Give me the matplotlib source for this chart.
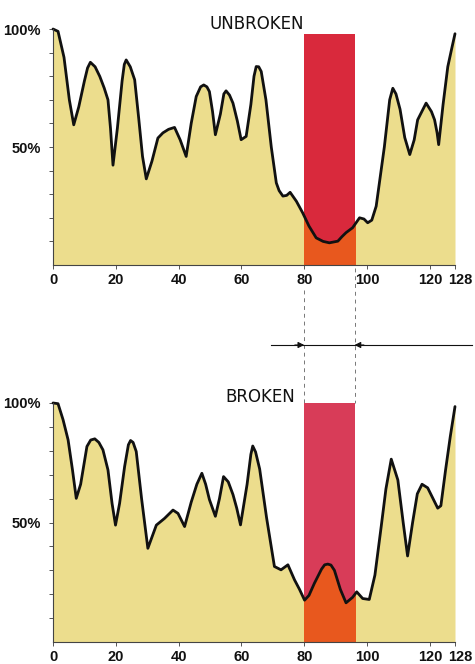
import numpy as np
import matplotlib
matplotlib.use('Agg')
import matplotlib.pyplot as plt
from matplotlib.patches import Rectangle
from matplotlib.transforms import blended_transform_factory, ScaledTranslation

# values (position 0..128, percent)
x_unbroken = [0, 1.6, 3.5, 5.2, 6.6, 8.2, 10, 11, 11.9, 13.4, 14.9, 16.3, 17.5, 18.3, 19.1,
              20.5, 22, 22.7, 23.3, 24.6, 26, 27.3, 28.5, 29.7, 31.5, 33.4, 35, 36.8, 38.7,
              40.5, 42.4, 44, 45.6, 47, 48, 49, 49.8, 50.8, 51.7, 53.3, 54.4, 55.1, 56.2, 57.3,
              58.7, 59.9, 61.5, 63, 64, 64.7, 65.5, 66.3, 67.8, 69.5, 71.1, 72, 73.2, 74.4, 75.5,
              77.5, 79.5, 81.5, 83.8, 86, 88, 90.7, 92, 93.3, 95.4, 97.6, 99, 100.2,
              101.5, 102.9, 105.5, 107.2, 108.2, 109.2, 110.5, 112, 113.6, 115, 116.1, 118.8, 120.5,
              121.5, 122.3, 122.8, 124.2, 125.7, 127, 128]
y_unbroken = [100, 99, 88, 70, 59.4, 67, 78, 83.5, 85.9, 84, 79.9, 75, 70, 58, 42.3,
              58, 78, 85, 86.9, 84, 78.5, 62, 46, 36.5, 44, 53.8, 56, 57.5, 58.3,
              53, 46, 60, 71.4, 75.5, 76.3, 75.5, 73.5, 65, 55.2, 64, 72.5, 73.8, 72, 68.6,
              61, 53.1, 54.5, 68, 80, 84.1, 84, 82, 70, 50, 34.8, 31.5, 29.2, 29.5, 30.8,
              27, 22.1, 16.5, 11.5, 10, 9.4, 10.1, 12, 13.7, 15.8, 20, 19.5, 17.9,
              19, 24.9, 50, 70, 74.9, 72.5, 66, 54, 46.8, 53, 61.5, 68.6, 65,
              61.5, 56, 51, 68, 84, 92, 98]

x_broken = [0, 1.6, 3.2, 4.8, 6.2, 7.4, 8.8, 10.8, 12, 13.3, 14.6, 15.9, 17.5, 18.8, 19.9,
            21.2, 22.8, 24, 24.7, 25.5, 26.5, 28.2, 30.2, 32.9, 35.5, 38.2, 39.8, 41.9, 44,
            45.8, 47.4, 48.6, 49.8, 51.7, 53, 54.3, 55.8, 57.3, 58.5, 59.7, 61.8,
            63, 63.6, 64.5, 65.8, 68, 70.5, 72.6, 74.8, 76.9, 78.5, 80.1, 81.5, 83.2, 85.5,
            86.5, 87.5, 88.5, 89.6, 91.5, 93.3, 95.4, 96.7, 98.6, 100.7, 102.5, 104.5, 106,
            107.7, 109.8, 111.5, 112.9, 114.5, 116, 117.5, 119.3, 121, 122.5, 123.5,
            125, 126.5, 128]
y_broken = [100, 99.7, 93, 84.6, 72, 60.1, 66, 81.8, 84.5, 85, 83.5, 80.4, 72, 58, 48.9,
            58, 73.4, 82.5, 84.3, 83.5, 79.7, 60, 39.2, 48.9, 51.7, 55.2, 53.8, 48.3, 58.5,
            66, 70.6, 66, 59.6, 52.6, 60, 69.2, 67, 61.7, 56, 49, 66,
            78.5, 82, 79.5, 72.4, 52, 31.6, 30.2, 32.3, 26, 22, 17.5, 19.5, 24.5, 30.5,
            32.3, 32.6, 32.2, 30, 22, 16.4, 18.7, 21, 18.2, 17.8, 28, 48.3, 64,
            76.5, 67.8, 50, 36, 50, 62, 66, 64.5, 60, 56, 57,
            72, 86, 98.5]

x_ticks = [0, 20, 40, 60, 80, 100, 120, 128]
y_ticks = [50, 100]
y_tick_labels = ['50%', '100%']
band = (80, 96)

yellow = '#ECDD8D'
orange = '#E8581E'
tick_font = 'Liberation Sans'

fig = plt.figure(figsize=(4.75, 6.64), dpi=100)
fig.patch.set_facecolor('white')

ax1 = fig.add_axes([0.1116, 0.6009, 0.8463, 0.3554])
ax2 = fig.add_axes([0.1116, 0.0331, 0.8463, 0.36])

panels = [(ax1, x_unbroken, y_unbroken, '#D9293C', 98),
          (ax2, x_broken, y_broken, '#D83C58', 100)]

for ax, xs, ys, red, top in panels:
    ax.set_xlim(0, 128)
    ax.set_ylim(0, 100)
    rect = Rectangle((band[0], 0), band[1] - band[0], top, facecolor=red,
                     edgecolor='none', zorder=1, clip_on=False)
    ax.add_patch(rect)
    ax.fill_between(xs, ys, 0, color=yellow, lw=0, zorder=2, clip_on=False)
    orange_fill = ax.fill_between(xs, ys, 0, color=orange, lw=0, zorder=3)
    orange_fill.set_clip_path(rect)
    ax.plot(xs, ys, color='#111111', lw=2.0, solid_joinstyle='round',
            solid_capstyle='round', zorder=4, clip_on=False)

    ax.set_facecolor('none')
    for s in ['top', 'right']:
        ax.spines[s].set_visible(False)
    for s in ['left', 'bottom']:
        ax.spines[s].set_color('#444444')
        ax.spines[s].set_linewidth(0.8)
        ax.spines[s].set_zorder(5)
    ax.set_xticks(x_ticks)
    ax.set_xticklabels([str(t) for t in x_ticks])
    ax.set_yticks(y_ticks)
    ax.set_yticklabels(y_tick_labels)
    ax.set_yticks(np.arange(10, 100, 10), minor=True)
    ax.tick_params(axis='both', which='both', length=3, width=0.7, color='#555555',
                   labelsize=10.5, labelcolor='#111111')
    ax.tick_params(axis='x', pad=3)
    ax.tick_params(axis='y', pad=6)
    for lab in ax.get_xticklabels() + ax.get_yticklabels():
        lab.set_fontweight('bold')
        lab.set_family(tick_font)
    last = ax.get_xticklabels()[-1]
    last.set_transform(last.get_transform() +
                       ScaledTranslation(5 / 100, 0, fig.dpi_scale_trans))

ax1.text(0.506, 1.02, 'UNBROKEN', transform=ax1.transAxes, ha='center',
         va='center', fontsize=12, color='#111111')
ax2.text(0.515, 1.025, 'BROKEN', transform=ax2.transAxes, ha='center',
         va='center', fontsize=12, color='#111111')

# dashed guides linking the band of both panels
tr = blended_transform_factory(ax1.transData, fig.transFigure)
ax1.plot([band[0], band[0]], [1 - 290 / 664, 1 - 403 / 664], transform=tr,
         ls=(0, (4, 4)), color='#777777', lw=0.7, clip_on=False)
ax1.plot([band[1], band[1]], [1 - 268 / 664, 1 - 403 / 664], transform=tr,
         ls=(0, (4, 4)), color='#777777', lw=0.7, clip_on=False)

# arrow line between the panels
ya = 1 - 345 / 664
ax1.plot([band[0] - 10.5, 133.5], [ya, ya], transform=tr, color='#111111',
         lw=0.8, clip_on=False)
ax1.annotate('', xy=(band[0], ya), xycoords=tr, xytext=(band[0] - 3, ya),
             textcoords=tr, arrowprops=dict(arrowstyle='-|>', color='#111111',
                                            lw=0.8, mutation_scale=9,
                                            shrinkA=0, shrinkB=0))
ax1.annotate('', xy=(band[1], ya), xycoords=tr, xytext=(band[1] + 3, ya),
             textcoords=tr, arrowprops=dict(arrowstyle='-|>', color='#111111',
                                            lw=0.8, mutation_scale=9,
                                            shrinkA=0, shrinkB=0))

fig.savefig('out.png', dpi=100, facecolor='white')
